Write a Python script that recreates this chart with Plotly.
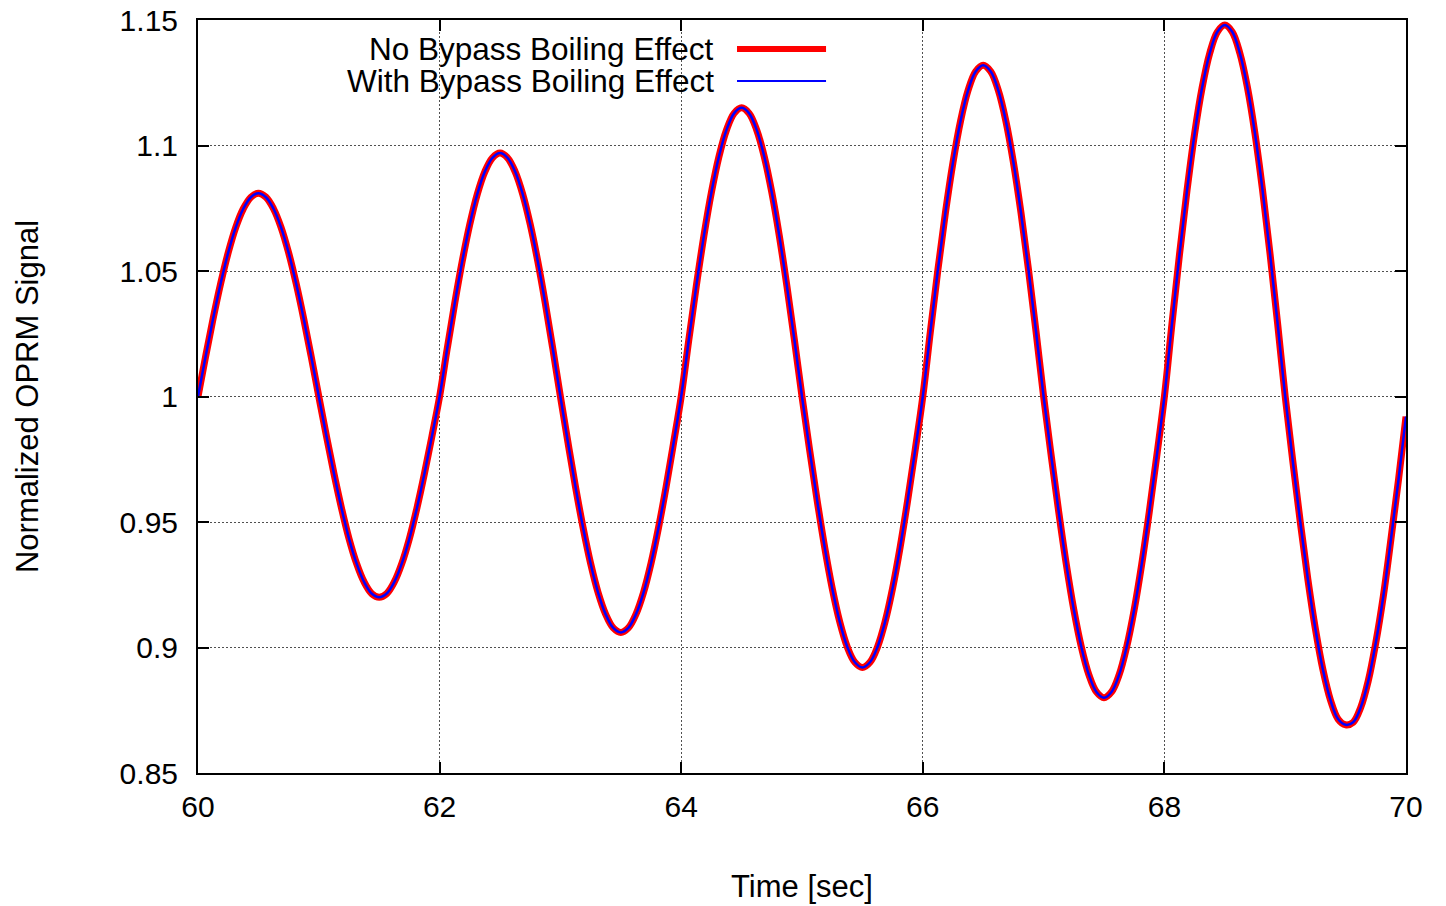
import plotly.graph_objects as go

# Time samples [sec] (regular sampling grid, 1/16 s)
time_s = [60 + i * 0.0625 for i in range(161)]

# Normalized OPRM signal, no bypass boiling effect
no_bypass = [
    1.0000, 1.0158, 1.0310, 1.0450, 1.0573, 1.0674, 1.0748, 1.0794, 1.0810, 1.0794, 1.0748, 1.0674, 1.0573, 1.0450, 1.0310, 1.0158,
    1.0000, 0.9844, 0.9694, 0.9556, 0.9434, 0.9335, 0.9261, 0.9215, 0.9200, 0.9215, 0.9261, 0.9335, 0.9434, 0.9556, 0.9694, 0.9844,
    1.0000, 1.0189, 1.0371, 1.0539, 1.0686, 1.0807, 1.0896, 1.0951, 1.0970, 1.0951, 1.0896, 1.0807, 1.0686, 1.0539, 1.0371, 1.0189,
    1.0000, 0.9817, 0.9640, 0.9478, 0.9335, 0.9218, 0.9132, 0.9078, 0.9060, 0.9078, 0.9132, 0.9218, 0.9335, 0.9478, 0.9640, 0.9817,
    1.0000, 1.0224, 1.0440, 1.0639, 1.0813, 1.0956, 1.1062, 1.1128, 1.1150, 1.1128, 1.1062, 1.0956, 1.0813, 1.0639, 1.0440, 1.0224,
    1.0000, 0.9789, 0.9587, 0.9400, 0.9236, 0.9102, 0.9002, 0.8941, 0.8920, 0.8941, 0.9002, 0.9102, 0.9236, 0.9400, 0.9587, 0.9789,
    1.0000, 1.0258, 1.0505, 1.0733, 1.0933, 1.1098, 1.1220, 1.1295, 1.1320, 1.1295, 1.1220, 1.1098, 1.0933, 1.0733, 1.0505, 1.0258,
    1.0000, 0.9766, 0.9541, 0.9333, 0.9151, 0.9002, 0.8891, 0.8823, 0.8800, 0.8823, 0.8891, 0.9002, 0.9151, 0.9333, 0.9541, 0.9766,
    1.0000, 1.0289, 1.0566, 1.0822, 1.1047, 1.1231, 1.1367, 1.1452, 1.1480, 1.1452, 1.1367, 1.1231, 1.1047, 1.0822, 1.0566, 1.0289,
    1.0000, 0.9744, 0.9499, 0.9272, 0.9074, 0.8911, 0.8790, 0.8715, 0.8692, 0.8702, 0.8761, 0.8867, 0.9019, 0.9205, 0.9430, 0.9667,
    0.9920,
]

# Normalized OPRM signal, with bypass boiling effect (indistinguishable in the figure)
with_bypass = [
    1.0000, 1.0158, 1.0310, 1.0450, 1.0573, 1.0674, 1.0748, 1.0794, 1.0810, 1.0794, 1.0748, 1.0674, 1.0573, 1.0450, 1.0310, 1.0158,
    1.0000, 0.9844, 0.9694, 0.9556, 0.9434, 0.9335, 0.9261, 0.9215, 0.9200, 0.9215, 0.9261, 0.9335, 0.9434, 0.9556, 0.9694, 0.9844,
    1.0000, 1.0189, 1.0371, 1.0539, 1.0686, 1.0807, 1.0896, 1.0951, 1.0970, 1.0951, 1.0896, 1.0807, 1.0686, 1.0539, 1.0371, 1.0189,
    1.0000, 0.9817, 0.9640, 0.9478, 0.9335, 0.9218, 0.9132, 0.9078, 0.9060, 0.9078, 0.9132, 0.9218, 0.9335, 0.9478, 0.9640, 0.9817,
    1.0000, 1.0224, 1.0440, 1.0639, 1.0813, 1.0956, 1.1062, 1.1128, 1.1150, 1.1128, 1.1062, 1.0956, 1.0813, 1.0639, 1.0440, 1.0224,
    1.0000, 0.9789, 0.9587, 0.9400, 0.9236, 0.9102, 0.9002, 0.8941, 0.8920, 0.8941, 0.9002, 0.9102, 0.9236, 0.9400, 0.9587, 0.9789,
    1.0000, 1.0258, 1.0505, 1.0733, 1.0933, 1.1098, 1.1220, 1.1295, 1.1320, 1.1295, 1.1220, 1.1098, 1.0933, 1.0733, 1.0505, 1.0258,
    1.0000, 0.9766, 0.9541, 0.9333, 0.9151, 0.9002, 0.8891, 0.8823, 0.8800, 0.8823, 0.8891, 0.9002, 0.9151, 0.9333, 0.9541, 0.9766,
    1.0000, 1.0289, 1.0566, 1.0822, 1.1047, 1.1231, 1.1367, 1.1452, 1.1480, 1.1452, 1.1367, 1.1231, 1.1047, 1.0822, 1.0566, 1.0289,
    1.0000, 0.9744, 0.9499, 0.9272, 0.9074, 0.8911, 0.8790, 0.8715, 0.8692, 0.8702, 0.8761, 0.8867, 0.9019, 0.9205, 0.9430, 0.9667,
    0.9920,
]

x_ticks = [60, 62, 64, 66, 68, 70]
x_tick_labels = ["60", "62", "64", "66", "68", "70"]
y_ticks = [0.85, 0.9, 0.95, 1.0, 1.05, 1.1, 1.15]
y_tick_labels = ["0.85", "0.9", "0.95", "1", "1.05", "1.1", "1.15"]

series_names = ["No Bypass Boiling Effect", "With Bypass Boiling Effect"]
series_colors = ["#ff0000", "#0000ff"]
series_widths = [7, 2.5]

FONT = "Liberation Sans, Arial, sans-serif"

fig = go.Figure()
for yvals, name, color, width in zip([no_bypass, with_bypass], series_names, series_colors, series_widths):
    fig.add_trace(go.Scatter(
        x=time_s, y=yvals, mode="lines", name=name,
        line=dict(color=color, width=width, shape="spline", smoothing=1.0),
        showlegend=False,
    ))

# Legend (text on the left, line sample on the right, gnuplot style)
legend_text_x = 0.4288
legend_y = [0.9615, 0.919]
sample_x0, sample_x1 = 0.4462, 0.5199
shapes = [
    dict(type="rect", xref="paper", yref="paper", x0=0.1175, x1=0.5232,
         y0=0.8858, y1=0.9867, fillcolor="white", line=dict(width=0), layer="between"),
]
annotations = []
for name, color, width, yy in zip(series_names, series_colors, [6, 2], legend_y):
    annotations.append(dict(
        text=name, xref="paper", yref="paper", x=legend_text_x, y=yy,
        xanchor="right", yanchor="middle", showarrow=False,
        font=dict(family=FONT, size=31.5, color="black"),
    ))
    shapes.append(dict(
        type="line", xref="paper", yref="paper", x0=sample_x0, x1=sample_x1,
        y0=yy, y1=yy, line=dict(color=color, width=width), layer="above",
    ))

axis_common = dict(
    showline=True, linecolor="black", linewidth=2, mirror="ticks",
    ticks="inside", ticklen=11, tickwidth=2, tickcolor="black",
    showgrid=True, gridcolor="#505050", gridwidth=1, griddash="2px,2px",
    zeroline=False, automargin=False,
    tickfont=dict(family=FONT, size=30, color="black"),
)

fig.update_layout(
    width=1446, height=906,
    margin=dict(l=198, r=40, t=20, b=133),
    paper_bgcolor="white", plot_bgcolor="white",
    font=dict(family=FONT, size=30, color="black"),
    xaxis=dict(
        range=[60, 70], tickvals=x_ticks, ticktext=x_tick_labels,
        ticklabelstandoff=6,
        title=dict(text="Time [sec]", font=dict(family=FONT, size=31), standoff=53),
        **axis_common,
    ),
    yaxis=dict(
        range=[0.85, 1.15], tickvals=y_ticks, ticktext=y_tick_labels,
        ticklabelstandoff=12,
        title=dict(text="Normalized OPRM Signal", font=dict(family=FONT, size=31), standoff=72),
        **axis_common,
    ),
    shapes=shapes,
    annotations=annotations,
)

fig.write_html("out.html")
